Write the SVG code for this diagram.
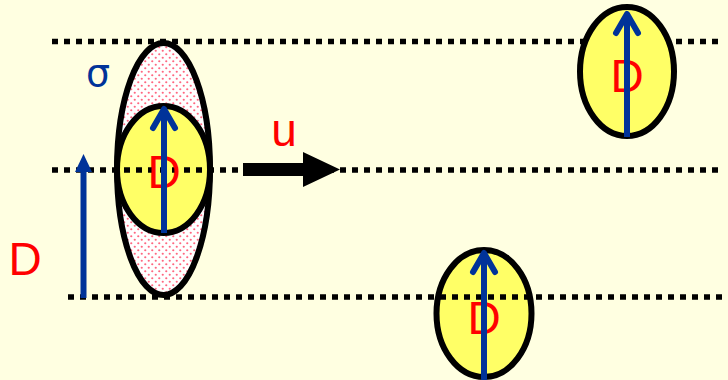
<svg xmlns="http://www.w3.org/2000/svg" width="728" height="380" viewBox="0 0 728 380">
<defs>
<pattern id="dots" width="7" height="7" patternUnits="userSpaceOnUse">
<rect width="7" height="7" fill="#ffffff"/>
<circle cx="1.75" cy="1.75" r="1.1" fill="#ff6680"/>
<circle cx="5.25" cy="5.25" r="1.1" fill="#ff6680"/>
</pattern>
</defs>
<style>
.dash{stroke:#000;stroke-width:5.5;stroke-dasharray:6 6;fill:none}
.ell{stroke:#000;stroke-width:6;fill:#ffff66}
.blue{stroke:#003399;stroke-width:6;fill:none;stroke-linecap:round;stroke-linejoin:round}
.bstem{stroke:#003399;stroke-width:6;fill:none}
.lbl{font-family:"Liberation Sans",Arial,sans-serif;fill:#ff0000;font-size:46px;text-anchor:middle}
</style>
<rect width="728" height="380" fill="#ffffe1"/>
<g id="spread">
<ellipse cx="163.5" cy="169" rx="46.5" ry="126" fill="url(#dots)" stroke="#000" stroke-width="6"/>
</g>
<g id="particle-center">
<ellipse class="ell" cx="163.5" cy="169.5" rx="46.5" ry="63.5"/>
</g>
<g id="particle-bottom">
<ellipse class="ell" cx="484" cy="313.5" rx="47.5" ry="63.5"/>
</g>
<g id="guides">
<line class="dash" x1="52" y1="41.5" x2="720" y2="41.5"/>
<line class="dash" x1="52" y1="170" x2="720" y2="170"/>
<line class="dash" x1="68" y1="297" x2="726" y2="297"/>
</g>
<g id="particle-top">
<ellipse class="ell" cx="627" cy="71.5" rx="47" ry="64.5"/>
</g>
<g id="labels-D">
<text class="lbl" x="164" y="188">D</text>
<text class="lbl" x="484" y="334">D</text>
<text class="lbl" x="627" y="92">D</text>
<text class="lbl" x="25" y="275">D</text>
</g>
<g id="arrows">
<line class="bstem" x1="164" y1="233" x2="164" y2="108"/>
<polyline class="blue" points="153,128 164,109 175,128"/>
<line class="bstem" x1="484" y1="380" x2="484" y2="252"/>
<polyline class="blue" points="473,272 484,253 495,272"/>
<line class="bstem" x1="627" y1="137" x2="627" y2="13"/>
<polyline class="blue" points="616,33 627,14 638,33"/>
<line class="bstem" x1="83.5" y1="298" x2="83.5" y2="170"/>
<polygon points="83.5,154 75,172 92,172" fill="#003399"/>
<polygon points="243,163 303,163 303,152 340,169.5 303,187 303,176 243,176" fill="#000"/>
</g>
<g id="other-labels">
<text x="98" y="86" font-family="'DejaVu Sans',sans-serif" font-size="38" fill="#003399" text-anchor="middle">σ</text>
<text class="lbl" x="284" y="146">u</text>
</g>
</svg>
